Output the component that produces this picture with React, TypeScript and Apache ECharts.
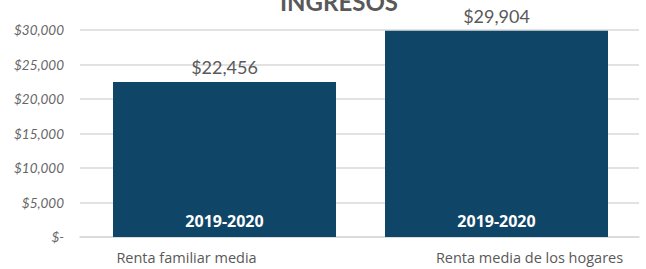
import React, { useEffect, useRef } from "react";
import * as echarts from "echarts";

const categories = ["Renta familiar media", "Renta media de los hogares"];
const values = [22456, 29904];
const periodLabels = ["2019-2020", "2019-2020"];
const titleText = "INGRESOS";
const yMin = 0;
const yMax = 30000;
const yStep = 5000;

const fmtMoney = (v: number) => (v === 0 ? "$-" : "$" + v.toLocaleString("en-US"));

export default function App() {
  const ref = useRef<HTMLDivElement>(null);
  useEffect(() => {
    document.body.style.margin = "0";
    const chart = echarts.init(ref.current!, null, { renderer: "svg" });
    chart.setOption({
      animation: false,
      textStyle: { fontFamily: "Lato" },
      title: {
        text: titleText,
        left: 334,
        top: -16,
        textAlign: "center",
        textStyle: { fontFamily: "Lato", fontWeight: "bold", fontSize: 24, color: "#595959" },
      },
      grid: [
        { left: 80, right: 7, top: 30, bottom: 32 },
        { left: 88.5, right: 13.5, top: 30, bottom: 32 },
      ],
      xAxis: [
        {
          type: "category",
          gridIndex: 0,
          data: categories,
          axisLine: { show: true, lineStyle: { color: "#d9d9d9", width: 1.5 } },
          axisTick: { show: false },
          axisLabel: { show: false },
        },
        {
          type: "category",
          gridIndex: 1,
          data: categories,
          axisLine: { show: false },
          axisTick: { show: false },
          axisLabel: {
            margin: 13,
            fontSize: 14.5,
            color: "#595959",
            formatter: (v: string) => (v === categories[0] ? "{a|" + v + "}" : "{b|" + v + "}"),
            rich: {
              a: { fontSize: 14.5, color: "#595959", fontFamily: "Open Sans", padding: [0, 76, 0, 0] },
              b: { fontSize: 14.5, color: "#595959", fontFamily: "Open Sans", padding: [0, 0, 0, 66] },
            },
          },
        },
      ],
      yAxis: [
        {
          type: "value",
          gridIndex: 0,
          min: yMin,
          max: yMax,
          interval: yStep,
          axisLine: { show: false },
          axisTick: { show: false },
          splitLine: { lineStyle: { color: "#d9d9d9", width: 1.5 } },
          axisLabel: {
            margin: 16,
            fontSize: 13.5,
            fontStyle: "italic",
            color: "#666666",
            formatter: (v: number) => fmtMoney(v),
          },
        },
        {
          type: "value",
          gridIndex: 1,
          min: yMin,
          max: yMax,
          interval: yStep,
          axisLine: { show: false },
          axisTick: { show: false },
          splitLine: { show: false },
          axisLabel: { show: false },
        },
      ],
      series: [
        {
          type: "bar",
          xAxisIndex: 1,
          yAxisIndex: 1,
          data: values,
          barWidth: 223,
          itemStyle: { color: "#0f4566" },
          label: {
            show: true,
            position: "top",
            distance: 6,
            fontSize: 18,
            color: "#595959",
            formatter: (p: any) => fmtMoney(p.value),
          },
        },
        {
          type: "bar",
          xAxisIndex: 1,
          yAxisIndex: 1,
          data: values,
          barWidth: 223,
          barGap: "-100%",
          itemStyle: { color: "transparent" },
          label: {
            show: true,
            position: "insideBottom",
            distance: 8,
            fontSize: 16,
            fontWeight: "bold",
            color: "#ffffff",
            fontFamily: "Open Sans",
            formatter: (p: any) => periodLabels[p.dataIndex],
          },
        },
      ],
    });
    return () => chart.dispose();
  }, []);
  return <div ref={ref} style={{ width: 646, height: 269 }} />;
}
